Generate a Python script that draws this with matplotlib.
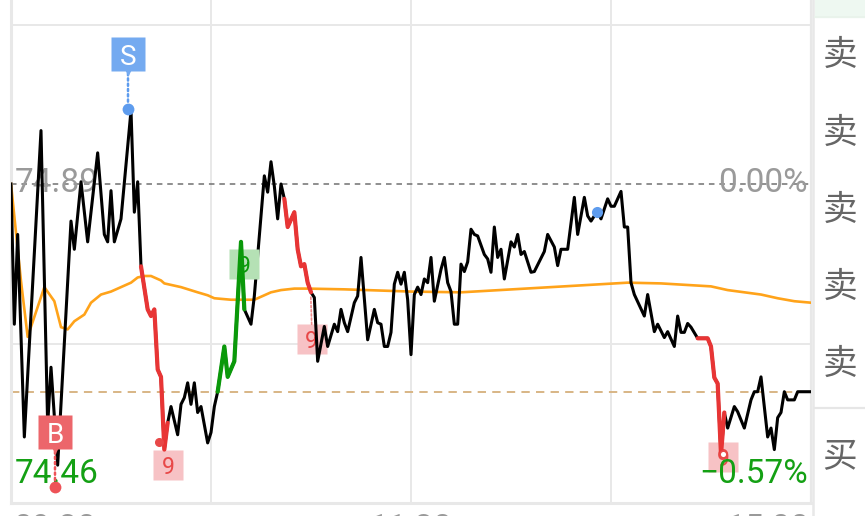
import matplotlib
matplotlib.use('Agg')
import matplotlib.pyplot as plt
from matplotlib.transforms import offset_copy
from matplotlib.patches import Rectangle
from matplotlib.lines import Line2D

plt.rcParams['font.family'] = ['Roboto', 'Noto Sans CJK SC', 'DejaVu Sans']
plt.rcParams['lines.scale_dashes'] = False

# price levels
prev_close = 74.89
last_price = 74.61
low_price = 74.46
high_price = 75.32

# price line vertices: minute from 09:30 (0..240), price
t = [0, 1, 2, 4, 9, 11, 12, 14, 18, 19, 21, 23, 26, 28, 29, 30, 31, 33, 36, 37, 38, 39,
     41, 42, 43, 44, 45, 46, 47,
     48, 50, 51, 52, 53, 54, 55, 56, 57, 59, 60, 61, 62,
     64, 65, 67, 69, 70,
     72, 73, 75, 76, 77, 78, 79, 80, 81, 82,
     83, 85, 86, 87, 88, 89, 90,
     91, 92, 94, 95, 97, 98, 99, 100, 101, 103, 104, 105, 107, 109, 110, 111, 112, 113,
     114, 115, 116, 117, 118, 119, 120, 121, 122, 123, 124, 125, 126, 127, 129, 130, 131,
     132, 133, 134, 135, 136, 137, 138, 139, 140, 142, 143, 144, 145, 146, 147, 148, 150,
     151, 152, 153, 154, 156, 157, 160, 161, 163, 164, 165, 167, 169, 170, 172, 173, 174,
     175, 176, 177, 179, 180, 181, 183, 184, 185, 186, 187, 190, 191, 193, 194, 196, 197,
     199, 200, 201, 202, 203, 204, 206,
     209, 210, 211, 212, 213, 214,
     215, 217, 218, 220, 222, 223, 224, 225, 227, 228, 229, 230, 231, 232, 233, 235, 236, 240]
price = [74.890, 74.701, 74.822, 74.549, 74.962, 74.565, 74.643, 74.511, 74.840, 74.802,
         74.893, 74.812, 74.932, 74.822, 74.812, 74.881, 74.812, 74.843, 74.989, 74.852,
         74.893, 74.779,
         74.721, 74.712, 74.721, 74.640, 74.630, 74.532, 74.568,
         74.590, 74.552, 74.593, 74.602, 74.622, 74.593, 74.622, 74.582, 74.590, 74.541,
         74.555, 74.590, 74.610,
         74.671, 74.630, 74.651, 74.812, 74.721,
         74.701, 74.739, 74.847, 74.901, 74.879, 74.920, 74.887, 74.843, 74.890, 74.870,
         74.832, 74.852, 74.802, 74.779, 74.782, 74.757, 74.744,
         74.737, 74.651, 74.698, 74.671, 74.701, 74.691, 74.721, 74.703, 74.691, 74.730,
         74.739, 74.791, 74.680, 74.721, 74.703, 74.701, 74.671, 74.671,
         74.690, 74.755, 74.771, 74.755, 74.771, 74.734, 74.660, 74.741, 74.751, 74.741,
         74.762, 74.757, 74.791, 74.732, 74.775, 74.791, 74.757,
         74.745, 74.701, 74.701, 74.782, 74.772, 74.785, 74.829, 74.822, 74.820, 74.795,
         74.789, 74.771, 74.832, 74.791, 74.802, 74.762, 74.812,
         74.805, 74.822, 74.795, 74.799, 74.771, 74.772, 74.799, 74.822, 74.805, 74.780,
         74.802, 74.802, 74.872, 74.822, 74.872, 74.847, 74.840,
         74.847, 74.852, 74.843, 74.870, 74.860, 74.860, 74.880, 74.832, 74.832, 74.757,
         74.741, 74.712, 74.741, 74.691, 74.701, 74.683, 74.691,
         74.671, 74.712, 74.690, 74.690, 74.702, 74.697, 74.682,
         74.682, 74.671, 74.629, 74.621, 74.525, 74.582,
         74.561, 74.590, 74.583, 74.561, 74.599, 74.610, 74.610, 74.630, 74.549, 74.561,
         74.532, 74.575, 74.582, 74.610, 74.599, 74.599, 74.610, 74.610]

# average price line
t_avg = [0, 3, 5, 10, 13, 15, 17, 19, 22, 24, 27, 30, 33, 36, 38, 40, 42, 45, 46, 51, 56,
         59, 61, 66, 73, 76, 78, 81, 85, 89, 100, 120, 135, 162, 185, 195, 210, 215, 225,
         230, 235, 240]
avg = [74.890, 74.759, 74.684, 74.751, 74.732, 74.697, 74.694, 74.705, 74.714, 74.730,
       74.741, 74.745, 74.751, 74.757, 74.764, 74.766, 74.766, 74.760, 74.756, 74.751,
       74.744, 74.740, 74.736, 74.734, 74.734, 74.740, 74.744, 74.747, 74.749, 74.749,
       74.748, 74.745, 74.744, 74.751, 74.757, 74.756, 74.752, 74.747, 74.741, 74.736,
       74.732, 74.730]

# TD sequence runs (start minute, end minute)
red_runs = [(39, 47), (82, 90), (206, 214)]
green_runs = [(62, 70)]

# signals
buy_sig = (13.2, 74.481)
sell_sig = (35.1, 74.991)
mark_pt = (175.8, 74.852)
td_red = [(44.5, 74.542), (89.9, 74.744), (213.6, 74.526)]
td_green = [(70.0, 74.812)]

time_labels = ['09:30', '11:30', '15:00']
side_labels = ['卖', '卖', '卖', '卖', '卖', '买']

fig = plt.figure(figsize=(8.65, 5.16), dpi=100)
ax = fig.add_axes([11 / 865, 13 / 516, 800 / 865, 638 / 516])
ax.set_xlim(0, 240)
ax.set_ylim(low_price, high_price)
ax.set_xticks([])
ax.set_yticks([])
ax.spines['top'].set_visible(False)
for s in ['left', 'bottom']:
    ax.spines[s].set_color('#e8e8e8')
    ax.spines[s].set_linewidth(2.2)
ax.spines['right'].set_color('#e8e8e8')
ax.spines['right'].set_linewidth(1.6)


def shifted(dx, dy):
    return offset_copy(ax.transData, fig=fig, x=dx, y=dy, units='dots')


# grid
step = (high_price - low_price) / 4
for k in (1, 3):
    ax.axhline(low_price + k * step, color='#e8e8e8', lw=1.4, zorder=0)
for m in (60, 120, 180):
    ax.axvline(m, color='#e8e8e8', lw=1.4, zorder=0)
ax.axhline(prev_close, color='#707070', lw=1.1, ls=(0, (4, 3.5)), zorder=1)
ax.axhline(last_price, color='#d8b585', lw=1.4, ls=(0, (6, 4.5)), zorder=1)

# axis labels
grey = '#9a9a9a'
green = '#14a014'
pct = (low_price / prev_close - 1) * 100
ax.annotate(f'{prev_close:.2f}', xy=(0, prev_close), xytext=(4, -8), textcoords='offset pixels',
            ha='left', va='baseline', fontsize=24, color=grey, zorder=2)
ax.annotate('0.00%', xy=(240, prev_close), xytext=(-3, -8), textcoords='offset pixels',
            ha='right', va='baseline', fontsize=24, color=grey, zorder=2)
ax.annotate(f'{low_price:.2f}', xy=(0, low_price), xytext=(4, 20), textcoords='offset pixels',
            ha='left', va='baseline', fontsize=24, color=green, zorder=6)
ax.annotate(f'{pct:.2f}%'.replace('-', '\u2212'), xy=(240, low_price), xytext=(-3, 20),
            textcoords='offset pixels', ha='right', va='baseline', fontsize=24, color=green,
            zorder=6)
for lab, m, ha, dx in zip(time_labels, [0, 120, 240], ['left', 'center', 'right'], [2, 0, -2]):
    ax.annotate(lab, xy=(m, low_price), xytext=(dx, -35), textcoords='offset pixels',
                ha=ha, va='baseline', fontsize=24, color=grey, annotation_clip=False)

# lines
ax.plot(t_avg, avg, color='#ffa31a', lw=1.9, zorder=3)
ax.plot(t, price, color='black', lw=2.2, zorder=4)
for runs, col in [(red_runs, '#e83535'), (green_runs, '#0a990a')]:
    for a, b in runs:
        seg = [i for i, m in enumerate(t) if a <= m <= b]
        ax.plot([t[i] for i in seg], [price[i] for i in seg], color=col, lw=3.0, zorder=5,
                solid_capstyle='round')

# TD "9" boxes
for k, (m, p) in enumerate(td_red):
    off = [(9, -23), (1, -47), (0, -3)][k]
    ax.plot(m, p, marker='s', ms=21.5, color='#f7c2c5', mec='none', transform=shifted(*off),
            zorder=3.5 if k == 1 else 4.5)
    ax.annotate('9', xy=(m, p), xytext=off, textcoords='offset pixels', ha='center',
                va='center_baseline', fontsize=16.5, color='#e84848', zorder=3.6 if k == 1 else 4.6)
    if k == 0:
        ax.plot(m, p, 'o', ms=5.5, color='#e84848', zorder=6)
    elif k == 1:
        ax.annotate('', xy=(m, p), xytext=(1, -32), textcoords='offset pixels',
                    arrowprops=dict(arrowstyle='-', ls=(0, (1.5, 1.5)), color='#f08a8a', lw=1.2,
                                    shrinkA=0, shrinkB=3), zorder=3.5)
    else:
        ax.plot(m, p, 'o', ms=5, mfc='white', mec='#e84848', mew=1.3, zorder=6)
for m, p in td_green:
    ax.plot(m, p, marker='s', ms=21.5, color='#b5e1b5', mec='none', transform=shifted(0, -22),
            zorder=4.5)
    ax.annotate('9', xy=(m, p), xytext=(0, -22), textcoords='offset pixels', ha='center',
                va='center_baseline', fontsize=16.5, color='#0a990a', zorder=4.6)

# buy / sell flags
for (m, p), lab, box_c, dot_c in [(sell_sig, 'S', '#74aaf0', '#5e9cee'),
                                  (buy_sig, 'B', '#ec666b', '#ee5257')]:
    ax.annotate('', xy=(m, p), xytext=(0, 36), textcoords='offset pixels',
                arrowprops=dict(arrowstyle='-', ls=(0, (1.6, 2.2)), color=dot_c, lw=1.8,
                                shrinkA=0, shrinkB=5), zorder=7)
    ax.plot(m, p, marker='v', ms=6, color=box_c, mec='none', transform=shifted(0, 37), zorder=7)
    ax.plot(m, p, marker='s', ms=24.5, color=box_c, mec='none', transform=shifted(0, 55), zorder=7)
    ax.annotate(lab, xy=(m, p), xytext=(0, 55), textcoords='offset pixels', ha='center',
                va='center_baseline', fontsize=20, color='white', zorder=8)
    ax.plot(m, p, 'o', ms=8.5, color=dot_c, mec='none', zorder=7)
ax.plot(*mark_pt, 'o', ms=8, color='#5e9cee', mec='none', zorder=7)

# right side panel
fig.add_artist(Rectangle((815 / 865, 1 - 17 / 516), 50 / 865, 17 / 516,
                         transform=fig.transFigure, color='#eef8f1', zorder=0))
fig.add_artist(Line2D([813 / 865, 813 / 865], [0, 1], color='#e8e8e8', lw=1.8))
fig.add_artist(Line2D([815 / 865, 1], [1 - 17 / 516] * 2, color='#e8f3ea', lw=1.2))
fig.add_artist(Line2D([815 / 865, 1], [1 - 408 / 516] * 2, color='#e6e6e6', lw=1.6))
for lab, yp in zip(side_labels, [55, 133, 210, 287, 364, 458]):
    fig.text(840 / 865, 1 - yp / 516, lab, ha='center', va='center', fontsize=25,
             color='#666666', family=['Noto Sans CJK SC', 'DejaVu Sans'])

fig.savefig('out.png', dpi=100)
